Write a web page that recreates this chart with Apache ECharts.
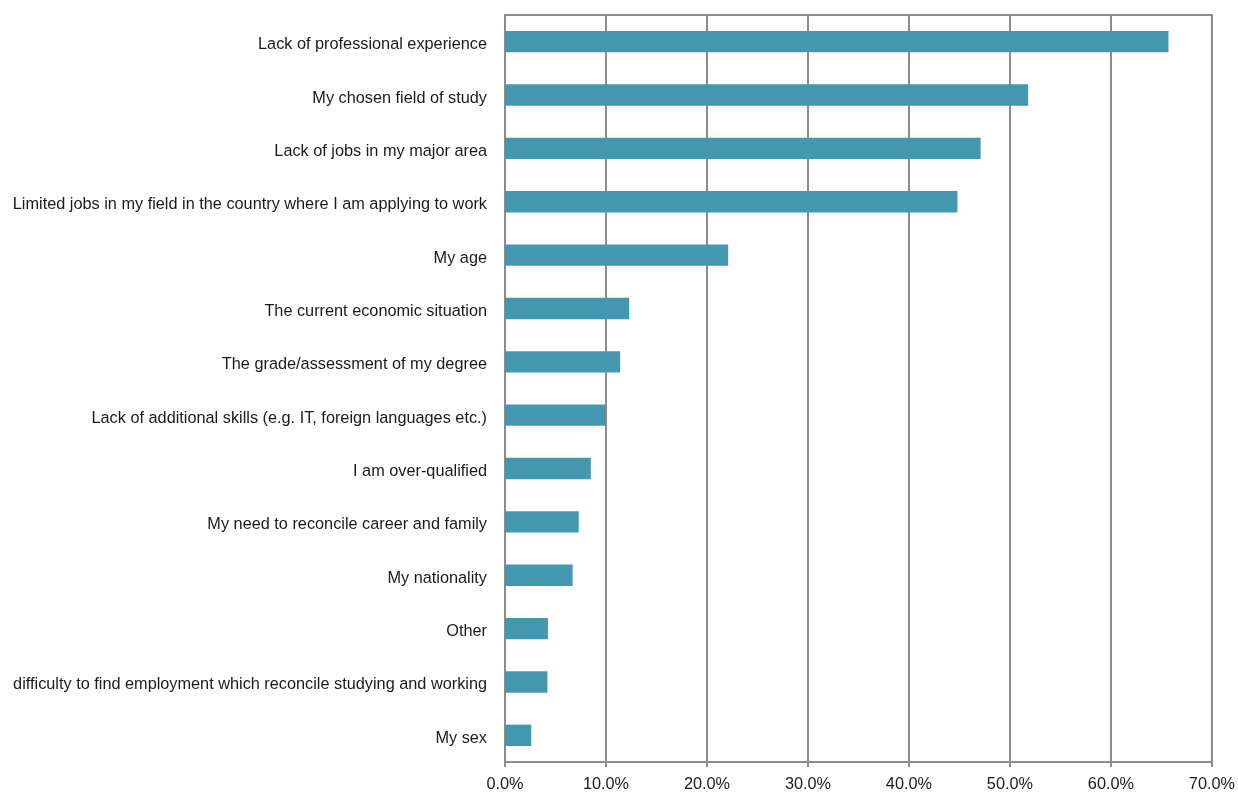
<!DOCTYPE html>
<html>
<head>
<meta charset="utf-8">
<script src="https://cdn.jsdelivr.net/npm/echarts@6/dist/echarts.min.js"></script>
<style>
  html, body { margin: 0; padding: 0; background: #fff; }
  #chart { width: 1238px; height: 794px; }
</style>
</head>
<body>
<div id="chart"></div>
<script>
// Reasons given for difficulty finding a job (share of respondents, %)
const categories = [
  "Lack of professional experience",
  "My chosen field of study",
  "Lack of jobs in my major area",
  "Limited jobs in my field in the country where I am applying to work",
  "My age",
  "The current economic situation",
  "The grade/assessment of my degree",
  "Lack of additional skills (e.g. IT, foreign languages etc.)",
  "I am over-qualified",
  "My need to reconcile career and family",
  "My nationality",
  "Other",
  "difficulty to find employment which reconcile studying and working",
  "My sex"
];
const shares = [65.7, 51.8, 47.1, 44.8, 22.1, 12.3, 11.4, 9.95, 8.5, 7.3, 6.7, 4.25, 4.2, 2.6];
const xTicks = [0, 10, 20, 30, 40, 50, 60, 70];

const chart = echarts.init(document.getElementById('chart'));
const font = 'Liberation Sans, Arial, sans-serif';
chart.setOption({
  animation: false,
  grid: {
    left: 505, right: 25, top: 15, bottom: 32,
    show: true, borderColor: '#8c8c8c', borderWidth: 2
  },
  xAxis: {
    type: 'value',
    min: xTicks[0], max: xTicks[xTicks.length - 1], interval: 10,
    axisLine: { show: true, lineStyle: { color: '#8c8c8c', width: 2 } },
    axisTick: { show: true, length: 5, lineStyle: { color: '#8c8c8c', width: 2 } },
    splitLine: { show: true, lineStyle: { color: '#8c8c8c', width: 2 } },
    axisLabel: {
      color: '#1a1a1a', fontFamily: font, fontSize: 16.3, margin: 15,
      formatter: v => v.toFixed(1) + '%'
    }
  },
  yAxis: {
    type: 'category',
    inverse: true,
    data: categories,
    axisLine: { show: true, lineStyle: { color: '#8c8c8c', width: 2 } },
    axisTick: { show: false },
    axisLabel: {
      margin: 18,
      formatter: v => '{l|' + v + '}',
      rich: {
        l: { color: '#1a1a1a', fontFamily: font, fontSize: 16.3, padding: [6, 0, 0, 0] }
      }
    }
  },
  series: [{
    type: 'bar',
    data: shares,
    barWidth: '40%',
    itemStyle: { color: '#4398b0' }
  }]
});
</script>
</body>
</html>
